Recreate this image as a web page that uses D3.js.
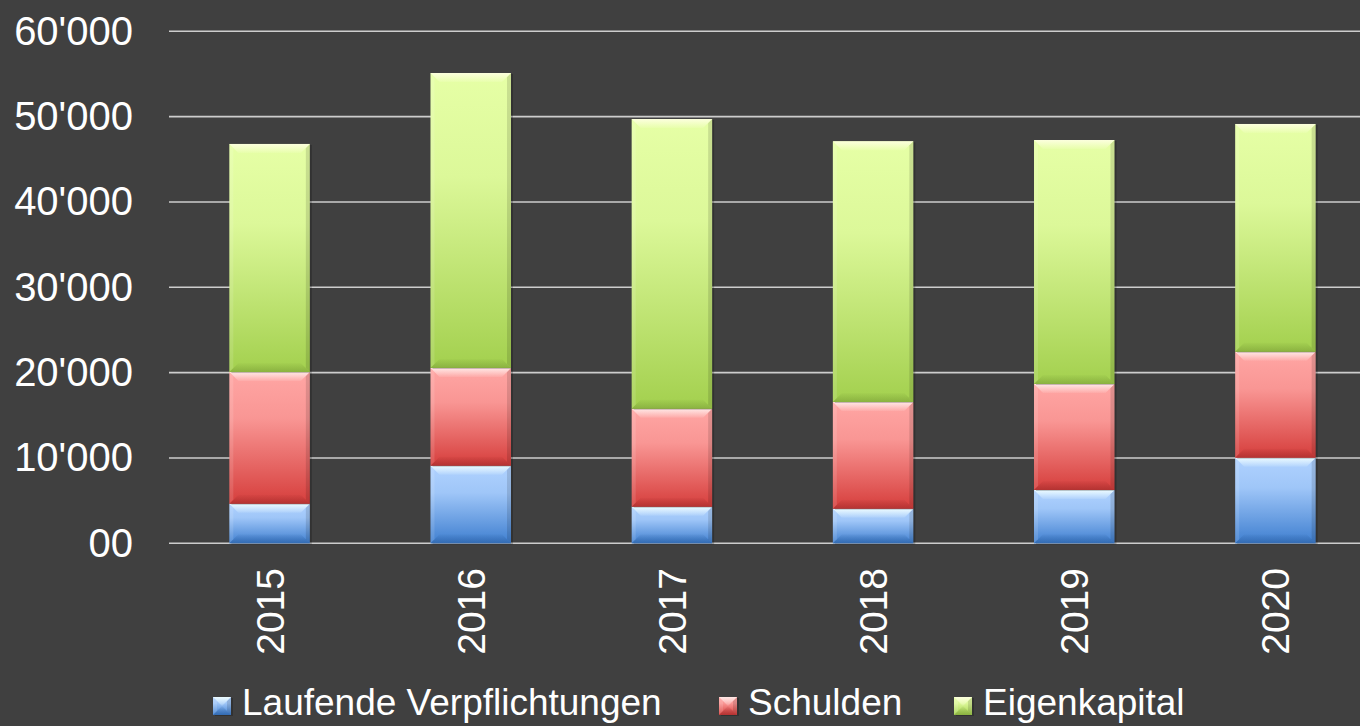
<!DOCTYPE html>
<html>
<head>
<meta charset="utf-8">
<script src="https://cdn.jsdelivr.net/npm/d3@7"></script>
<style>
  html, body { margin: 0; padding: 0; background: #404040; overflow: hidden; }
  svg { display: block; font-family: 'Liberation Sans', Arial, sans-serif; }
</style>
</head>
<body>
<svg id="chart" width="1360" height="726"></svg>
<script>
// data
const years = ['2015', '2016', '2017', '2018', '2019', '2020']
const laufende    = [4640, 9100, 4290, 4060, 6250, 10030]
const schulden    = [15430, 11450, 11480, 12500, 12420, 12420]
const eigenkapital = [26730, 34560, 33950, 30550, 28590, 26690]

const seriesNames = ['Laufende Verpflichtungen', 'Schulden', 'Eigenkapital']
const yTicks      = [0, 10000, 20000, 30000, 40000, 50000, 60000]
const yTickLabels = ['00', "10'000", "20'000", "30'000", "40'000", "50'000", "60'000"]

// colour ramps per series
const palette = [
  { top: '#b0d2ff', bottom: '#3f7fd0', hi: '#effdff', lo: '#2c5f9f', legendX: 213 },
  { top: '#ffa6a4', bottom: '#d63e3c', hi: '#ffecea', lo: '#9e2c2c', legendX: 719 },
  { top: '#e6ffa6', bottom: '#a3d04e', hi: '#fdffe0', lo: '#7a9e38', legendX: 954 }
]

const svg = d3.select('#chart')

const xScale = d3.scaleBand()
    .domain(years)
    .range([169, 1376])
    .paddingInner(0.6)
    .paddingOuter(0.3)

const yScale = d3.scaleLinear()
    .domain([0, 60000])
    .range([543.3, 31.3])

// gradients: body, top bevel, bottom bevel
const defs = svg.append('defs')
palette.forEach((p, i) => {
    const g = defs.append('linearGradient')
        .attr('id', 'grad' + i)
        .attr('x1', 0).attr('y1', 0).attr('x2', 0).attr('y2', 1)
    g.append('stop').attr('offset', '0%').attr('stop-color', p.top)
    g.append('stop').attr('offset', '35%').attr('stop-color', d3.interpolateRgb(p.top, p.bottom)(0.15))
    g.append('stop').attr('offset', '100%').attr('stop-color', p.bottom)

    const t = defs.append('linearGradient')
        .attr('id', 'hi' + i)
        .attr('x1', 0).attr('y1', 0).attr('x2', 0).attr('y2', 1)
    t.append('stop').attr('offset', '0%').attr('stop-color', p.hi).attr('stop-opacity', 0.95)
    t.append('stop').attr('offset', '100%').attr('stop-color', p.hi).attr('stop-opacity', 0.1)

    const b = defs.append('linearGradient')
        .attr('id', 'lo' + i)
        .attr('x1', 0).attr('y1', 0).attr('x2', 0).attr('y2', 1)
    b.append('stop').attr('offset', '0%').attr('stop-color', p.lo).attr('stop-opacity', 0.05)
    b.append('stop').attr('offset', '100%').attr('stop-color', p.lo).attr('stop-opacity', 0.6)
})

// gridlines
svg.append('g')
    .attr('class', 'grid')
    .selectAll('line')
    .data(yTicks)
    .join('line')
    .attr('x1', 169).attr('x2', 1360)
    .attr('y1', d => yScale(d)).attr('y2', d => yScale(d))
    .attr('stroke', '#cdcdcd')
    .attr('stroke-width', 1.6)

// y axis labels
svg.append('g')
    .attr('class', 'y-axis')
    .attr('transform', 'translate(133,0)')
    .call(d3.axisLeft(yScale)
        .tickValues(yTicks)
        .tickSize(0)
        .tickPadding(0)
        .tickFormat((d, i) => yTickLabels[i]))
    .call(g => g.select('.domain').remove())
    .selectAll('text')
        .style('font-size', '40px')
        .style('font-family', "'Liberation Sans', Arial, sans-serif")
        .attr('fill', '#ffffff')

// x axis labels, rotated
svg.append('g')
    .attr('class', 'x-axis')
    .selectAll('text')
    .data(years)
    .join('text')
    .attr('transform', d => `translate(${xScale(d) + xScale.bandwidth() / 2},568) rotate(-90)`)
    .attr('text-anchor', 'end')
    .attr('dy', '0.36em')
    .attr('fill', '#ffffff')
    .style('font-size', '39px')
    .text(d => d)

// stack
const rows = years.map((y, i) => ({
    year: y, s0: laufende[i], s1: schulden[i], s2: eigenkapital[i]
}))
const stacked = d3.stack().keys(['s0', 's1', 's2'])(rows)

function bevelBar(g, x, y, w, h, i) {
    const b = Math.min(9, h / 2)
    const bs = Math.min(4, h / 2)
    // soft shadow on right
    g.append('rect')
        .attr('x', x + 2).attr('y', y + 1)
        .attr('width', w).attr('height', h)
        .attr('fill', '#000').attr('opacity', 0.22)
    g.append('rect')
        .attr('x', x).attr('y', y)
        .attr('width', w).attr('height', h)
        .attr('fill', `url(#grad${i})`)
    // side bevels
    g.append('polygon')
        .attr('points', [[x, y], [x + bs, y + bs], [x + bs, y + h - bs], [x, y + h]].join(' '))
        .attr('fill', '#ffffff').attr('opacity', 0.12)
    g.append('polygon')
        .attr('points', [[x + w, y], [x + w - bs, y + bs], [x + w - bs, y + h - bs], [x + w, y + h]].join(' '))
        .attr('fill', '#000000').attr('opacity', 0.12)
    // top bevel
    g.append('polygon')
        .attr('points', [[x, y], [x + w, y], [x + w - b, y + b], [x + b, y + b]].join(' '))
        .attr('fill', `url(#hi${i})`)
    // bottom bevel
    g.append('polygon')
        .attr('points', [[x, y + h], [x + w, y + h], [x + w - b, y + h - b], [x + b, y + h - b]].join(' '))
        .attr('fill', `url(#lo${i})`)
}

const barsG = svg.append('g').attr('class', 'bars')
stacked.forEach((layer, i) => {
    layer.forEach(d => {
        const x = xScale(d.data.year)
        const y = yScale(d[1])
        const h = yScale(d[0]) - yScale(d[1])
        bevelBar(barsG.append('g'), x, y, xScale.bandwidth(), h, i)
    })
})

// legend
const legend = svg.append('g').attr('class', 'legend')
seriesNames.forEach((name, i) => {
    const p = palette[i]
    const g = legend.append('g')
    bevelBar(g, p.legendX, 697, 18, 18, i)
    g.append('text')
        .attr('x', p.legendX + 29)
        .attr('y', 715)
        .attr('fill', '#ffffff')
        .style('font-size', '37px')
        .text(name)
})
</script>
</body>
</html>
